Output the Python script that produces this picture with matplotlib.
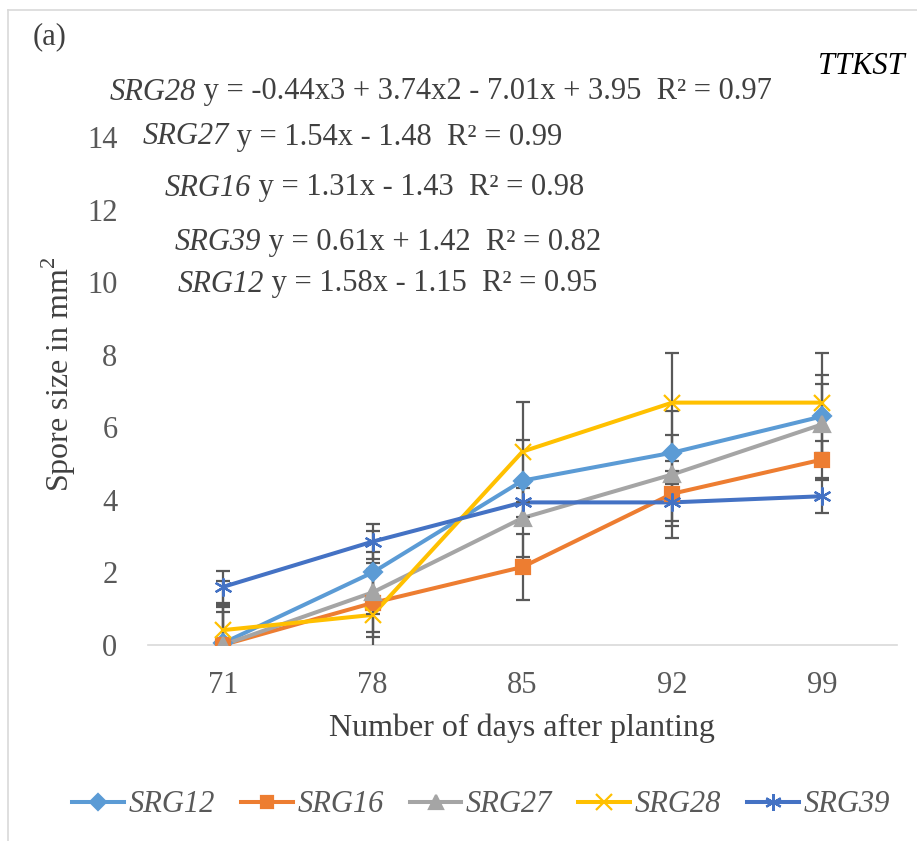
# Spore size vs days after planting, TTKST race
import numpy as np
import matplotlib.pyplot as plt
from matplotlib.lines import Line2D

plt.rcParams['font.family'] = ['Liberation Serif', 'DejaVu Serif']
plt.rcParams['mathtext.fontset'] = 'custom'
plt.rcParams['mathtext.rm'] = 'Liberation Serif'

# data
days = ['71', '78', '85', '92', '99']
names = ['SRG12', 'SRG16', 'SRG27', 'SRG28', 'SRG39']
srg12 = [0.05, 2.0, 4.53, 5.3, 6.3]
srg16 = [0.0, 1.16, 2.15, 4.17, 5.11]
srg27 = [0.0, 1.45, 3.5, 4.7, 6.08]
srg28 = [0.41, 0.83, 5.33, 6.68, 6.68]
srg39 = [1.6, 2.85, 3.93, 3.93, 4.1]
err12 = [1.0, 1.15, 1.13, 0.5, 1.13]
err16 = [0.92, 0.94, 0.91, 0.9, 0.5]
err27 = [1.1, 1.1, 1.07, 1.74, 1.1]
err28 = [1.36, 1.44, 1.38, 1.38, 1.38]
err39 = [0.45, 0.49, 0.4, 0.5, 0.45]

equations = [
    ('SRG28', ' y = -0.44x3 + 3.74x2 - 7.01x + 3.95  R² = 0.97'),
    ('SRG27', ' y = 1.54x - 1.48  R² = 0.99'),
    ('SRG16', ' y = 1.31x - 1.43  R² = 0.98'),
    ('SRG39', ' y = 0.61x + 1.42  R² = 0.82'),
    ('SRG12', ' y = 1.58x - 1.15  R² = 0.95'),
]

colors = ['#5B9BD5', '#ED7D31', '#A5A5A5', '#FFC000', '#4472C4']
markers = ['D', 's', '^', 'x', (6, 2, 0)]
msizes = [9, 10, 11, 12, 13]
txt = '#404040'
fs = 22

W, H = 917, 841
fig = plt.figure(figsize=(W / 100, H / 100), dpi=100)
ax = fig.add_axes([148 / W, 1 - 645 / H, 749 / W, 508 / H])

x = np.arange(len(days))
series = [srg12, srg16, srg27, srg28, srg39]
errs = [err12, err16, err27, err28, err39]

for i in range(len(names)):
    ax.plot(x, series[i], color=colors[i], lw=2.9, zorder=2)
for i in range(len(names)):
    ax.errorbar(x, series[i], yerr=errs[i], fmt='none', ecolor='#595959',
                elinewidth=1.6, capsize=5, capthick=1.6, zorder=3)
for i in range(len(names)):
    ax.plot(x, series[i], ls='none', marker=markers[i], ms=msizes[i],
            color=colors[i], mec=colors[i], mew=1.6, zorder=4)

ax.set_xlim(-0.5, len(days) - 0.5)
ax.set_ylim(0, 14)
ax.set_yticks(np.arange(0, 15, 2))
ax.set_xticks(x)
ax.set_xticklabels(days)
ax.tick_params(length=0, labelsize=fs, colors='#595959')
ax.tick_params(axis='x', pad=19)
ax.tick_params(axis='y', pad=22)
for s in ['top', 'right', 'left']:
    ax.spines[s].set_visible(False)
ax.spines['bottom'].set_color('#D9D9D9')
ax.spines['bottom'].set_linewidth(1.2)

fig.text(522 / W, 1 - 728 / H, 'Number of days after planting', fontsize=fs + 1,
         color=txt, ha='center', va='center')
fig.text(59 / W, 1 - 374 / H, 'Spore size in mm$^2$', fontsize=fs + 1,
         color=txt, ha='center', va='center', rotation=90)

fig.text(33 / W, 1 - 37 / H, '(a)', fontsize=fs, color=txt, va='center')
fig.text(905 / W, 1 - 67 / H, 'TTKST', fontsize=fs, style='italic',
         color='black', ha='right', va='center')

# trend line equations: italic name then regular text
eq_pos = [(110, 92), (143, 137), (165, 188), (175, 242), (178, 284)]
for (name, rest), (px, py) in zip(equations, eq_pos):
    t = fig.text(px / W, 1 - py / H, name, fontsize=fs, style='italic',
                 color=txt, va='center')
    fig.add_artist(plt.Annotation(rest, xy=(1, 0), xycoords=t, va='bottom',
                                  fontsize=fs, color=txt))

handles = [Line2D([], [], color=colors[i], lw=2.9, marker=markers[i],
                  ms=msizes[i] - 1, mew=1.6) for i in range(len(names))]
leg = fig.legend(handles, names, loc='center', ncol=5,
                 bbox_to_anchor=(481 / W, 1 - 805 / H), frameon=False,
                 prop={'size': fs, 'style': 'italic'}, handlelength=1.7,
                 handletextpad=0.15, columnspacing=0.85)
for t in leg.get_texts():
    t.set_color('#595959')

# chart border
fig.add_artist(plt.Line2D([8 / W, 8 / W], [0, 1 - 10 / H], color='#D9D9D9',
                          lw=1.2, transform=fig.transFigure))
fig.add_artist(plt.Line2D([8 / W, 1], [1 - 10 / H, 1 - 10 / H], color='#D9D9D9',
                          lw=1.2, transform=fig.transFigure))

fig.savefig('out.png', dpi=100)
